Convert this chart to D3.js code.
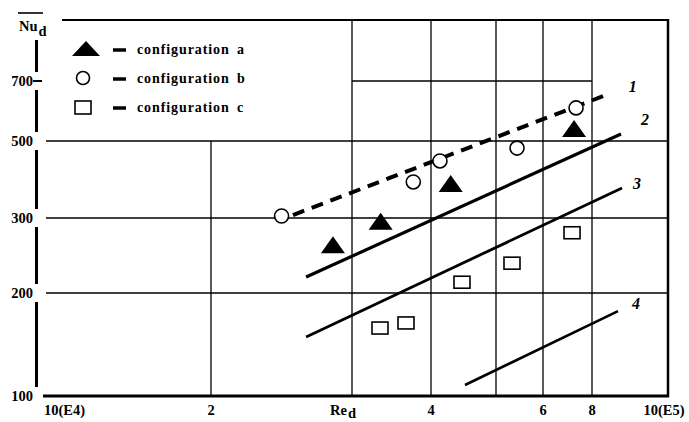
<!DOCTYPE html>
<html>
<head>
<meta charset="utf-8">
<script src="https://cdn.jsdelivr.net/npm/d3@7"></script>
<style>
	body { margin: 0; background: #fff; }
	svg text { font-family: "Liberation Serif", "DejaVu Serif", serif; font-weight: bold; }
</style>
</head>
<body>
<div id="chart"></div>
<script>
// Re_d (x) and Nu_d (y)
var configA = [[28400, 259], [33300, 294], [42800, 376], [72000, 535]];
var configB = [[24500, 304], [37500, 381], [41250, 438], [54250, 477], [72850, 602]];
var configC = [[33220, 158], [36520, 163.5], [44490, 212], [53200, 235], [71150, 277]];

// correlation lines, end points
var line1 = [[25320, 306], [83370, 647]];
var line2 = [[26290, 218], [87120, 520]];
var line3 = [[26290, 148.8], [87380, 366]];
var line4 = [[44950, 107.7], [86350, 177]];
var lineNames = ["1", "2", "3", "4"];
var lineLabelPos = [[90200, 677], [93500, 563], [91300, 376], [91000, 186]];

var xTicks = [1e4, 2e4, 3e4, 4e4, 5e4, 6e4, 8e4, 1e5];
var xTickLabels = ["10(E4)", "2", "Re", "4", "", "6", "8", "10(E5)"];
var yTicks = [100, 200, 300, 500, 700, 1000];
var yTickLabels = ["100", "200", "300", "500", "700", ""];

var legendNames = ["configuration a", "configuration b", "configuration c"];

var width = 689, height = 422;

var svg = d3.select("#chart").append("svg")
	.attr("width", width)
	.attr("height", height);

// Scales - the scanned grid is not evenly log spaced, so one knot per gridline
var x = d3.scaleLog().domain(xTicks).range([44, 211, 352, 431, 496, 543, 592, 668]);
var y = d3.scaleLog().domain(yTicks).range([396, 293, 218, 141, 81, 20]);

var plotLeft = x(1e4), plotRight = x(1e5), plotTop = y(1000), plotBottom = y(100);
var barX = 35;

// Grid
var grid = svg.append("g").attr("stroke", "#000").attr("stroke-width", 1.3);
[3e4, 4e4, 5e4, 6e4, 8e4].forEach(function (v) {
	grid.append("line").attr("x1", x(v)).attr("x2", x(v)).attr("y1", plotTop).attr("y2", plotBottom);
});
grid.append("line").attr("x1", x(2e4)).attr("x2", x(2e4)).attr("y1", y(500)).attr("y2", plotBottom);
[200, 300, 500].forEach(function (v) {
	grid.append("line").attr("x1", plotLeft + 2).attr("x2", plotRight).attr("y1", y(v)).attr("y2", y(v));
});
grid.append("line").attr("x1", x(3e4)).attr("x2", x(8e4)).attr("y1", y(700)).attr("y2", y(700));

// Frame
var frame = svg.append("g").attr("stroke", "#000").attr("fill", "none");
frame.append("line").attr("x1", plotLeft + 18).attr("x2", plotRight + 1)
	.attr("y1", plotTop).attr("y2", plotTop).attr("stroke-width", 2);
frame.append("line").attr("x1", plotRight).attr("x2", plotRight)
	.attr("y1", plotTop - 1).attr("y2", plotBottom + 1).attr("stroke-width", 2.5);
frame.append("line").attr("x1", plotLeft - 1).attr("x2", plotRight + 1)
	.attr("y1", plotBottom).attr("y2", plotBottom).attr("stroke-width", 2.8);

// Y tick labels
svg.append("g").selectAll("text").data(yTicks.slice(0, 5)).enter().append("text")
	.attr("x", barX - 2)
	.attr("y", (d) => y(d) + 5)
	.attr("text-anchor", "end")
	.attr("font-size", 14.5)
	.attr("fill", "#000")
	.text((d, i) => yTickLabels[i]);

// Nu_d label with overbar
svg.append("line").attr("x1", 18).attr("x2", 43).attr("y1", 13).attr("y2", 13)
	.attr("stroke", "#000").attr("stroke-width", 1.6);
var nu = svg.append("text").attr("x", 19).attr("y", 31).attr("font-size", 14.5).attr("fill", "#000");
nu.append("tspan").text("Nu");
nu.append("tspan").attr("dy", 5).attr("dx", 1).text("d");

// X tick labels
svg.append("g").selectAll("text").data(xTicks).enter().append("text")
	.attr("x", function (d, i) {
		if (i == 2) return x(d) - 22;
		if (i == 7) return x(d) - 4;
		return x(d);
	})
	.attr("y", 415)
	.attr("text-anchor", (d, i) => (i == 0 || i == 2 ? "start" : "middle"))
	.attr("font-size", 14.5)
	.attr("fill", "#000")
	.each(function (d, i) {
		var t = d3.select(this);
		t.append("tspan").text(xTickLabels[i]);
		if (i == 2) t.append("tspan").attr("dy", 3).attr("dx", 1).text("d");
	});

// Correlation lines
var lineGen = d3.line().x((d) => x(d[0])).y((d) => y(d[1]));
var lines = svg.append("g").attr("fill", "none").attr("stroke", "#000");
lines.append("path").attr("d", lineGen(line1)).attr("stroke-width", 4).attr("stroke-dasharray", "12,8");
lines.append("path").attr("d", lineGen(line2)).attr("stroke-width", 3.2);
lines.append("path").attr("d", lineGen(line3)).attr("stroke-width", 2.8);
lines.append("path").attr("d", lineGen(line4)).attr("stroke-width", 2.6);

svg.append("g").selectAll("text").data(lineLabelPos).enter().append("text")
	.attr("x", (d) => x(d[0]))
	.attr("y", (d) => y(d[1]) + 5)
	.attr("text-anchor", "middle")
	.attr("font-size", 16)
	.attr("font-style", "italic")
	.attr("fill", "#000")
	.text((d, i) => lineNames[i]);

// Markers
var triangle = "M0,-9L12,8L-12,8Z";

svg.append("g").selectAll("path").data(configA).enter().append("path")
	.attr("d", triangle)
	.attr("transform", (d) => "translate(" + x(d[0]) + "," + y(d[1]) + ")")
	.attr("fill", "#000");

svg.append("g").selectAll("circle").data(configB).enter().append("circle")
	.attr("cx", (d) => x(d[0]))
	.attr("cy", (d) => y(d[1]))
	.attr("r", 7)
	.attr("fill", "#fff")
	.attr("stroke", "#000")
	.attr("stroke-width", 1.6);

svg.append("g").selectAll("rect").data(configC).enter().append("rect")
	.attr("x", (d) => x(d[0]) - 8)
	.attr("y", (d) => y(d[1]) - 6)
	.attr("width", 16)
	.attr("height", 12)
	.attr("fill", "#fff")
	.attr("stroke", "#000")
	.attr("stroke-width", 1.6);

// Legend
var legend = svg.append("g");
var rowY = [49, 78, 107];
legend.append("path").attr("d", "M0,-8L14,7L-14,7Z")
	.attr("transform", "translate(86," + rowY[0] + ")").attr("fill", "#000");
legend.append("circle").attr("cx", 83).attr("cy", rowY[1]).attr("r", 6.5)
	.attr("fill", "#fff").attr("stroke", "#000").attr("stroke-width", 1.6);
legend.append("rect").attr("x", 75).attr("y", rowY[2] - 6).attr("width", 16).attr("height", 13)
	.attr("fill", "#fff").attr("stroke", "#000").attr("stroke-width", 1.6);
rowY.forEach(function (ry, i) {
	legend.append("line").attr("x1", 113).attr("x2", 126).attr("y1", ry + 1).attr("y2", ry + 1)
		.attr("stroke", "#000").attr("stroke-width", 3.5);
	legend.append("text").attr("x", 137).attr("y", ry + 5)
		.attr("font-size", 14)
		.attr("letter-spacing", 0.9)
		.attr("word-spacing", 3)
		.attr("fill", "#000")
		.text(legendNames[i]);
});

// Left axis bar, broken at each tick label; drawn last
var barTop = 40, barBottom = plotBottom - 9;
var breaks = yTicks.slice(0, 5).map(function (v) { return Math.round(y(v)); }).sort(d3.ascending);
var pieces = [];
var start = barTop;
breaks.forEach(function (b) {
	if (b - 9 > start) pieces.push({ y0: start, y1: b - 9 });
	start = b + 9;
});
if (barBottom > start) pieces.push({ y0: start, y1: barBottom });

var bar = svg.append("g").attr("class", "y-bar");
pieces.forEach(function (p) {
	bar.append("rect")
		.attr("x", barX)
		.attr("y", p.y0)
		.attr("width", 3)
		.attr("height", p.y1 - p.y0)
		.attr("fill", "#000");
});
bar.append("rect")
	.attr("x", barX - 2).attr("y", Math.round(y(700)) - 1)
	.attr("width", 9).attr("height", 2)
	.attr("fill", "#000");
</script>
</body>
</html>
